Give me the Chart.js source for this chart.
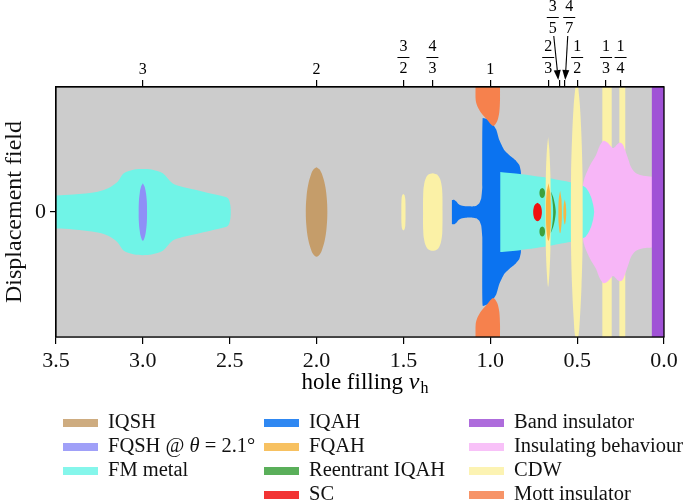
<!DOCTYPE html>
<html>
<head>
<meta charset="utf-8">
<script src="https://cdn.jsdelivr.net/npm/chart.js@4.4.1/dist/chart.umd.min.js"></script>
<style>
    html, body { margin: 0; padding: 0; background: #fff; }
    canvas { display: block; }
</style>
</head>
<body>
<canvas id="phaseChart" width="700" height="503"></canvas>
<script>
// ---- data (filling nu_h on x, displacement field on y) ----
const topTickValues = [3, 2, 1.5, 4 / 3, 1, 2 / 3, 0.6, 4 / 7, 0.5, 1 / 3, 0.25];
const topTickLabels = ['3', '2', '3/2', '4/3', '1', '2/3', '3/5', '4/7', '1/2', '1/3', '1/4'];

// FM metal around nu = 3 (upper edge, mirrored below)
const fmLeftX = [3.55, 3.4, 3.26, 3.2, 3.145, 3.11, 3.05, 3.0, 2.95, 2.885, 2.83, 2.77, 2.72, 2.63, 2.55, 2.51, 2.497, 2.494];
const fmLeftH = [0.13, 0.14, 0.163, 0.19, 0.243, 0.31, 0.34, 0.345, 0.34, 0.31, 0.23, 0.2, 0.184, 0.155, 0.13, 0.11, 0.06, 0];

// FM metal box right of nu = 1
const fmRightX = [0.9425, 0.83, 0.7, 0.58, 0.5, 0.4655, 0.45, 0.437, 0.42, 0.408, 0.402];
const fmRightH = [0.32, 0.305, 0.28, 0.25, 0.225, 0.208, 0.195, 0.17, 0.12, 0.06, 0];

// IQAH around nu = 1
const iqahX = [1.221, 1.215, 1.207, 1.195, 1.184, 1.167, 1.138, 1.103, 1.08, 1.063, 1.052, 1.046, 1.044, 1.017, 0.99, 0.966, 0.948, 0.92, 0.885, 0.856, 0.833, 0.8236];
const iqahH = [0.095, 0.097, 0.097, 0.085, 0.065, 0.052, 0.046, 0.045, 0.05, 0.07, 0.11, 0.2, 0.75, 0.74, 0.71, 0.66, 0.576, 0.496, 0.448, 0.416, 0.376, 0.32];

// Mott insulator lobe at nu = 1 (lower edge of the top lobe; bottom lobe mirrored)
const mottX = [1.085, 1.084, 1.075, 1.052, 1.017, 0.983, 0.96, 0.948, 0.944, 0.944];
const mottY = [1.0, 0.896, 0.848, 0.792, 0.736, 0.688, 0.728, 0.8, 0.9, 1.0];

// insulating behaviour near small filling
const insX = [0.468, 0.462, 0.45, 0.425, 0.391, 0.37, 0.351, 0.335, 0.322, 0.305, 0.293, 0.28, 0.262, 0.247, 0.235, 0.224, 0.205, 0.19, 0.161, 0.12, 0.069, 0.05];
const insH = [0.2, 0.25, 0.3, 0.376, 0.456, 0.53, 0.568, 0.565, 0.552, 0.525, 0.512, 0.525, 0.55, 0.552, 0.535, 0.496, 0.42, 0.36, 0.31, 0.29, 0.283, 0.283];

// small islands: centre filling, centre field, half heights and half widths
const fqshCenter = [3.0, 0];
const fqshYs = [0, 0.08, 0.15, 0.2, 0.23];
const fqshWs = [0.024, 0.023, 0.018, 0.011, 0];

const iqshCenter = [2.0, 0];
const iqshYs = [0, 0.12, 0.22, 0.3, 0.34, 0.358];
const iqshWs = [0.062, 0.058, 0.048, 0.032, 0.018, 0];

const cdw32Center = [1.5, 0];
const cdw32Ys = [0, 0.1, 0.135, 0.145];
const cdw32Ws = [0.012, 0.011, 0.007, 0];

const cdw43Center = [1.331, 0];
const cdw43Ys = [0, 0.15, 0.22, 0.27, 0.3, 0.31];
const cdw43Ws = [0.056, 0.055, 0.05, 0.04, 0.025, 0];

const cdw23Center = [0.667, 0];
const cdw23Ys = [0, 0.3, 0.5, 0.6];
const cdw23Ws = [0.015, 0.013, 0.007, 0];

const cdw12Center = [0.502, 0];
const cdw12Ys = [0, 0.3, 0.6, 0.85, 1.0];
const cdw12Ws = [0.034, 0.033, 0.027, 0.018, 0.008];

const cdw13Center = [0.328, 0];
const cdw13Ys = [0, 1.05];
const cdw13Ws = [0.027, 0.027];

const cdw14Center = [0.24, 0];
const cdw14Ys = [0, 1.05];
const cdw14Ws = [0.017, 0.017];

const fqah23Center = [0.665, 0];
const fqah23Ys = [0, 0.15, 0.23];
const fqah23Ws = [0.014, 0.011, 0];

const fqah35Center = [0.598, 0];
const fqah35Ys = [0, 0.1, 0.17];
const fqah35Ws = [0.01, 0.008, 0];

const fqah47Center = [0.571, 0];
const fqah47Ys = [0, 0.06, 0.1];
const fqah47Ws = [0.008, 0.006, 0];

const scCenter = [0.728, 0];
const scYs = [0, 0.035, 0.06, 0.074];
const scWs = [0.025, 0.022, 0.014, 0];

const rIqahTopCenter = [0.701, 0.152];
const rIqahBotCenter = [0.701, -0.156];
const rIqahYs = [0, 0.02, 0.032, 0.04];
const rIqahWs = [0.016, 0.014, 0.01, 0];

// reentrant IQAH crescent next to 2/3
const rIqahArcX = [0.651, 0.638, 0.628, 0.623, 0.628, 0.638, 0.651, 0.645, 0.64, 0.638, 0.64, 0.645];
const rIqahArcY = [0.165, 0.12, 0.06, 0, -0.06, -0.12, -0.165, -0.12, -0.06, 0, 0.06, 0.12];

const bandCenter = [0.03, 0];
const bandYs = [0, 1.05];
const bandWs = [0.04, 0.04];

const legendLabels = [
    ['IQSH', 'FQSH @ θ = 2.1°', 'FM metal'],
    ['IQAH', 'FQAH', 'Reentrant IQAH', 'SC'],
    ['Band insulator', 'Insulating behaviour', 'CDW', 'Mott insulator']
];

const phaseColors = {
    'IQSH': '#c59d6a',
    'FQSH @ θ = 2.1°': '#8f8ff7',
    'FM metal': '#70f4e7',
    'IQAH': '#0b73f0',
    'FQAH': '#f6b645',
    'Reentrant IQAH': '#3da13d',
    'SC': '#f01010',
    'Band insulator': '#a052d6',
    'Insulating behaviour': '#f7b6f7',
    'CDW': '#fbf1a6',
    'Mott insulator': '#f6814d'
};

const FONT = "'Liberation Serif', 'DejaVu Serif', serif";

// ---- shape builders ----
function mirrorPoints(xs, hs) {
    const pts = xs.map(function (x, i) { return { x: x, y: hs[i] }; });
    for (let i = xs.length - 1; i >= 0; i--) {
        if (hs[i] !== 0) pts.push({ x: xs[i], y: -hs[i] });
    }
    return pts;
}

function lensPoints(center, ys, ws) {
    const cx = center[0], cy = center[1];
    const n = ys.length - 1;
    const pts = [];
    for (let i = n; i >= 0; i--) pts.push({ x: cx + ws[i], y: cy + ys[i] });
    for (let i = 1; i <= n; i++) pts.push({ x: cx + ws[i], y: cy - ys[i] });
    for (let i = n; i >= 0; i--) if (ws[i] !== 0) pts.push({ x: cx - ws[i], y: cy - ys[i] });
    for (let i = 1; i <= n; i++) if (ws[i] !== 0) pts.push({ x: cx - ws[i], y: cy + ys[i] });
    return pts;
}

function zipPoints(xs, ys, sign) {
    return xs.map(function (x, i) { return { x: x, y: sign * ys[i] }; });
}

function region(pts, label, tension) {
    return {
        label: label,
        data: pts,
        showLine: true,
        fill: 'shape',
        backgroundColor: phaseColors[label],
        borderColor: 'rgba(0,0,0,0)',
        borderWidth: 0,
        pointRadius: 0,
        pointHoverRadius: 0,
        tension: tension
    };
}

// first dataset is drawn on top
const datasets = [
    region(lensPoints(bandCenter, bandYs, bandWs), 'Band insulator', 0),
    region(lensPoints(scCenter, scYs, scWs), 'SC', 0.4),
    region(lensPoints(rIqahTopCenter, rIqahYs, rIqahWs), 'Reentrant IQAH', 0.4),
    region(lensPoints(rIqahBotCenter, rIqahYs, rIqahWs), 'Reentrant IQAH', 0.4),
    region(zipPoints(rIqahArcX, rIqahArcY, 1), 'Reentrant IQAH', 0.3),
    region(lensPoints(fqah23Center, fqah23Ys, fqah23Ws), 'FQAH', 0.4),
    region(lensPoints(fqah35Center, fqah35Ys, fqah35Ws), 'FQAH', 0.4),
    region(lensPoints(fqah47Center, fqah47Ys, fqah47Ws), 'FQAH', 0.4),
    region(lensPoints(cdw12Center, cdw12Ys, cdw12Ws), 'CDW', 0.3),
    region(lensPoints(cdw23Center, cdw23Ys, cdw23Ws), 'CDW', 0.3),
    region(mirrorPoints(fmRightX, fmRightH), 'FM metal', 0.2),
    region(zipPoints(mottX, mottY, 1), 'Mott insulator', 0.3),
    region(zipPoints(mottX, mottY, -1), 'Mott insulator', 0.3),
    region(mirrorPoints(iqahX, iqahH), 'IQAH', 0.15),
    region(mirrorPoints(insX, insH), 'Insulating behaviour', 0.3),
    region(lensPoints(cdw13Center, cdw13Ys, cdw13Ws), 'CDW', 0),
    region(lensPoints(cdw14Center, cdw14Ys, cdw14Ws), 'CDW', 0),
    region(lensPoints(cdw32Center, cdw32Ys, cdw32Ws), 'CDW', 0.4),
    region(lensPoints(cdw43Center, cdw43Ys, cdw43Ws), 'CDW', 0.4),
    region(lensPoints(iqshCenter, iqshYs, iqshWs), 'IQSH', 0.4),
    region(lensPoints(fqshCenter, fqshYs, fqshWs), 'FQSH @ θ = 2.1°', 0.4),
    region(mirrorPoints(fmLeftX, fmLeftH), 'FM metal', 0.3)
];

// ---- drawing helpers ----
function drawRich(ctx, text, x, y, size, align) {
    // Greek letters in italic, as in the math text of the figure
    const parts = text.split(/([θν])/).filter(function (p) { return p.length; });
    const fonts = parts.map(function (p) {
        return (p === 'θ' || p === 'ν' ? 'italic ' : '') + size + 'px ' + FONT;
    });
    let total = 0;
    parts.forEach(function (p, i) { ctx.font = fonts[i]; total += ctx.measureText(p).width; });
    let cx = align === 'center' ? x - total / 2 : x;
    ctx.textAlign = 'left';
    parts.forEach(function (p, i) {
        ctx.font = fonts[i];
        ctx.fillText(p, cx, y);
        cx += ctx.measureText(p).width;
    });
}

function drawArrow(ctx, x0, y0, x1, y1) {
    const ang = Math.atan2(y1 - y0, x1 - x0);
    const head = 10, half = 3.5;
    const bx = x1 - head * Math.cos(ang), by = y1 - head * Math.sin(ang);
    ctx.beginPath();
    ctx.moveTo(x0, y0);
    ctx.lineTo(bx, by);
    ctx.lineWidth = 1.1;
    ctx.strokeStyle = '#000';
    ctx.stroke();
    ctx.beginPath();
    ctx.moveTo(x1, y1);
    ctx.lineTo(bx + half * Math.sin(ang), by - half * Math.cos(ang));
    ctx.lineTo(bx - half * Math.sin(ang), by + half * Math.cos(ang));
    ctx.closePath();
    ctx.fillStyle = '#000';
    ctx.fill();
}

const raisedLabels = { '3/5': -7, '4/7': 4.5 };

const phasePlugin = {
    id: 'phasePlugin',
    beforeDatasetsDraw: function (chart) {
        const a = chart.chartArea;
        const ctx = chart.ctx;
        ctx.save();
        ctx.fillStyle = '#cccccc';
        ctx.fillRect(a.left, a.top, a.right - a.left, a.bottom - a.top);
        ctx.restore();
    },
    afterDatasetsDraw: function (chart) {
        const a = chart.chartArea;
        const ctx = chart.ctx;
        ctx.save();
        ctx.strokeStyle = '#000';
        ctx.lineWidth = 1.3;
        ctx.strokeRect(a.left, a.top, a.right - a.left, a.bottom - a.top);
        ctx.restore();
    },
    afterDraw: function (chart) {
        const ctx = chart.ctx;
        const a = chart.chartArea;
        const top = chart.scales.xTop;
        ctx.save();
        ctx.fillStyle = '#000';
        ctx.textBaseline = 'middle';

        // fraction labels on the top axis
        topTickLabels.forEach(function (lab, i) {
            const px = top.getPixelForValue(topTickValues[i]);
            ctx.font = '16px ' + FONT;
            ctx.textAlign = 'center';
            if (lab.indexOf('/') < 0) {
                ctx.fillText(lab, px, 70);
                return;
            }
            const nd = lab.split('/');
            let lx = px, yN = 47, yBar = 57.5, yD = 69;
            if (raisedLabels[lab] !== undefined) {
                lx = px + raisedLabels[lab];
                yN = 7; yBar = 17.5; yD = 29;
                drawArrow(ctx, lx + (raisedLabels[lab] < 0 ? 1 : -1.5), 36, px - (raisedLabels[lab] < 0 ? 1.5 : -0.5), 80);
            }
            ctx.fillStyle = '#000';
            ctx.font = '16px ' + FONT;
            ctx.textAlign = 'center';
            ctx.fillText(nd[0], lx, yN);
            ctx.fillText(nd[1], lx, yD);
            ctx.fillRect(lx - 6, yBar - 0.5, 12, 1);
        });

        // x axis title with subscript
        const cxTitle = (a.left + a.right) / 2 + 5;
        ctx.textAlign = 'left';
        ctx.font = '23px ' + FONT;
        const w1 = ctx.measureText('hole filling ').width;
        ctx.font = 'italic 24px ' + FONT;
        const w2 = ctx.measureText('ν').width;
        ctx.font = '16px ' + FONT;
        const w3 = ctx.measureText('h').width;
        let tx = cxTitle - (w1 + w2 + w3 + 1) / 2;
        ctx.font = '23px ' + FONT;
        ctx.fillText('hole filling ', tx, 383);
        tx += w1;
        ctx.font = 'italic 24px ' + FONT;
        ctx.fillText('ν', tx, 383);
        tx += w2 + 1;
        ctx.font = '16px ' + FONT;
        ctx.fillText('h', tx, 389);

        // legend in three columns
        const colX = [63, 264, 469];
        const rowY = [423, 447, 471, 495];
        legendLabels.forEach(function (col, c) {
            col.forEach(function (lab, r) {
                ctx.fillStyle = phaseColors[lab];
                ctx.globalAlpha = 0.85;
                ctx.fillRect(colX[c], rowY[r] - 4, 35, 8);
                ctx.globalAlpha = 1;
                ctx.fillStyle = '#111';
                drawRich(ctx, lab, colX[c] + 45, rowY[r], 20.5, 'left');
            });
        });
        ctx.restore();
    }
};

new Chart(document.getElementById('phaseChart'), {
    type: 'scatter',
    data: { datasets: datasets },
    options: {
        responsive: false,
        animation: false,
        events: [],
        layout: { padding: { left: 0, right: 36, top: 0, bottom: 106 } },
        plugins: {
            legend: { display: false },
            tooltip: { enabled: false }
        },
        scales: {
            x: {
                type: 'linear',
                position: 'bottom',
                reverse: true,
                min: 0,
                max: 3.5,
                ticks: {
                    stepSize: 0.5,
                    autoSkip: false,
                    maxRotation: 0,
                    padding: 4,
                    color: '#111',
                    font: { family: FONT, size: 22 },
                    callback: function (v) { return Number(v).toFixed(1); }
                },
                grid: { drawOnChartArea: false, tickLength: 7, color: '#000', lineWidth: 1.2 },
                border: { color: '#000', width: 1.3 },
                afterFit: function (s) { s.height = 60; }
            },
            xTop: {
                type: 'linear',
                position: 'top',
                reverse: true,
                min: 0,
                max: 3.5,
                afterBuildTicks: function (s) {
                    s.ticks = topTickValues.map(function (v) { return { value: v }; });
                },
                ticks: { autoSkip: false, maxRotation: 0, callback: function () { return ''; } },
                grid: { drawOnChartArea: false, tickLength: 7, color: '#000', lineWidth: 1.2 },
                border: { color: '#000', width: 1.3 },
                afterFit: function (s) { s.height = 87; }
            },
            y: {
                type: 'linear',
                min: -1,
                max: 1,
                afterBuildTicks: function (s) { s.ticks = [{ value: 0 }]; },
                ticks: {
                    padding: 4,
                    color: '#111',
                    font: { family: FONT, size: 22 },
                    callback: function (v) { return String(v); }
                },
                grid: { drawOnChartArea: false, tickLength: 6, color: '#000', lineWidth: 1.2 },
                border: { color: '#000', width: 1.3 },
                title: {
                    display: true,
                    text: 'Displacement field',
                    color: '#111',
                    font: { family: FONT, size: 24 },
                    padding: { top: 0, bottom: 0 }
                },
                afterFit: function (s) { s.width = 56; }
            }
        }
    },
    plugins: [phasePlugin]
});
</script>
</body>
</html>
